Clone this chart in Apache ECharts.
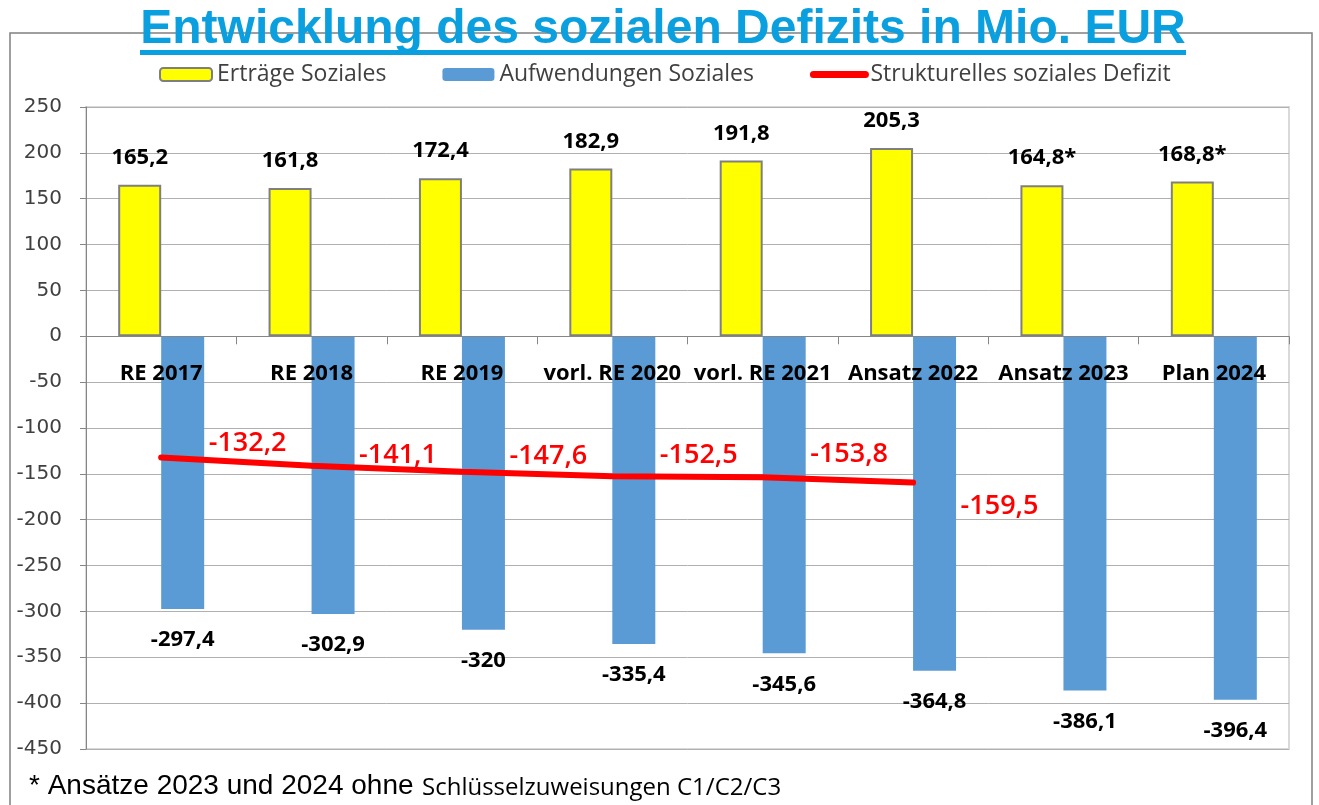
<!DOCTYPE html>
<html lang="de">
<head>
    <meta charset="UTF-8">
    <title>Soziales Defizit</title>
    <style>
        html, body { margin: 0; padding: 0; background: #fff; }
        #main { width: 1319px; height: 805px; }
    </style>
</head>
<body>
    <div id="main"></div>
</body>
<script src="https://cdn.jsdelivr.net/npm/echarts@6/dist/echarts.min.js"></script>
<script>
    var categories = ['RE 2017', 'RE 2018', 'RE 2019', 'vorl. RE 2020', 'vorl. RE 2021', 'Ansatz 2022', 'Ansatz 2023', 'Plan 2024']
    var ertraege = [165.2, 161.8, 172.4, 182.9, 191.8, 205.3, 164.8, 168.8]
    var ertraegeNote = ['', '', '', '', '', '', '*', '*']
    var aufwendungen = [-297.4, -302.9, -320, -335.4, -345.6, -364.8, -386.1, -396.4]
    var defizit = [-132.2, -141.1, -147.6, -152.5, -153.8, -159.5]
    var yTicks = {min: -450, max: 250, interval: 50}

    // vertical shift of the red labels (they sit right of each point)
    var defizitLabelDy = [-14, -10, -15, -21, -23, 24]

    function de(v) {
        return String(v).replace('.', ',')
    }

    var main = echarts.init(document.getElementById('main'))
    var font = '"Open Sans", sans-serif'

    // grid: top 107, bottom 56 -> plot height 642; put the category axis on the 0 line
    var plotHeight = 805 - 107 - 56
    var zeroOffset = -plotHeight * (0 - yTicks.min) / (yTicks.max - yTicks.min)

    var option = {
        backgroundColor: '#fff',
        animation: false,
        graphic: [
            {
                type: 'rect',
                shape: {x: 10, y: 33, width: 1302, height: 800},
                style: {fill: 'none', stroke: '#808080', lineWidth: 1.5},
                z: -10
            },
            {
                type: 'text',
                x: 663, y: 6,
                style: {
                    text: 'Entwicklung des sozialen Defizits in Mio. EUR',
                    font: 'bold 48px "Liberation Sans", Arial, sans-serif',
                    fill: '#0aa0e0',
                    textAlign: 'center'
                },
                z: 10
            },
            {
                type: 'rect',
                shape: {x: 140, y: 50, width: 1046, height: 5},
                style: {fill: '#0aa0e0'},
                z: 10
            },
            {
                type: 'text',
                x: 29, y: 772,
                style: {
                    text: '* Ansätze 2023 und 2024 ohne',
                    font: '28px "Liberation Sans", Arial, sans-serif',
                    fill: '#000'
                }
            },
            {
                type: 'text',
                x: 422, y: 776,
                style: {
                    text: 'Schlüsselzuweisungen C1/C2/C3',
                    font: '24px "Open Sans", sans-serif',
                    fill: '#000'
                }
            }
        ],
        legend: {
            top: 63,
            left: 159,
            padding: 0,
            itemWidth: 52,
            itemHeight: 13,
            itemGap: 56,
            textStyle: {fontFamily: font, fontSize: 23, color: '#404040'},
            data: [
                'Erträge Soziales',
                'Aufwendungen Soziales',
                {
                    name: 'Strukturelles soziales Defizit',
                    itemStyle: {opacity: 0},
                    lineStyle: {width: 7, cap: 'round', color: '#ff0000'}
                }
            ]
        },
        grid: {
            left: 86,
            right: 30,
            top: 107,
            bottom: 56,
            show: true,
            borderColor: '#d9d9d9',
            borderWidth: 2
        },
        xAxis: {
            type: 'category',
            data: categories,
            position: 'bottom',
            offset: zeroOffset,
            z: 4,
            axisLine: {onZero: false, lineStyle: {color: '#868686', width: 1}},
            axisTick: {show: true, length: 8, lineStyle: {color: '#868686'}},
            axisLabel: {
                margin: 26,
                fontFamily: font,
                fontWeight: 'bold',
                fontSize: 22,
                color: '#000',
                interval: 0
            }
        },
        yAxis: {
            type: 'value',
            min: yTicks.min,
            max: yTicks.max,
            interval: yTicks.interval,
            axisLine: {show: true, lineStyle: {color: '#868686'}},
            axisTick: {show: true, length: 6, lineStyle: {color: '#868686'}},
            axisLabel: {fontFamily: '"DejaVu Sans", sans-serif', fontSize: 20, color: '#404040', margin: 24},
            splitLine: {lineStyle: {color: '#b0b0b0', width: 1}}
        },
        series: [
            {
                name: 'Erträge Soziales',
                type: 'bar',
                data: ertraege,
                barWidth: 43,
                barGap: '0%',
                itemStyle: {color: '#ffff00', borderColor: '#7f7f7f', borderWidth: 2},
                label: {
                    show: true,
                    position: 'top',
                    distance: 16,
                    fontFamily: font,
                    fontWeight: 'bold',
                    fontSize: 22,
                    color: '#000',
                    formatter: function (p) {
                        return de(p.value) + ertraegeNote[p.dataIndex]
                    }
                }
            },
            {
                name: 'Aufwendungen Soziales',
                type: 'bar',
                data: aufwendungen,
                barWidth: 43,
                barGap: '0%',
                itemStyle: {color: '#5b9bd5'},
                label: {
                    show: true,
                    position: 'bottom',
                    distance: 20,
                    fontFamily: font,
                    fontWeight: 'bold',
                    fontSize: 22,
                    color: '#000',
                    formatter: function (p) {
                        return de(p.value)
                    }
                }
            },
            {
                name: 'Strukturelles soziales Defizit',
                type: 'line',
                data: defizit,
                symbol: 'circle',
                symbolSize: 5,
                showSymbol: true,
                z: 5,
                lineStyle: {color: '#ff0000', width: 6, cap: 'round'},
                itemStyle: {color: '#ff0000'},
                label: {
                    show: true,
                    position: 'right',
                    distance: 45,
                    fontFamily: font,
                    fontSize: 27,
                    fontWeight: 600,
                    color: '#ff0000',
                    formatter: function (p) {
                        return de(p.value)
                    }
                },
                labelLayout: function (params) {
                    return {dy: defizitLabelDy[params.dataIndex], hideOverlap: false}
                }
            }
        ]
    }
    main.setOption(option)
</script>
</html>
